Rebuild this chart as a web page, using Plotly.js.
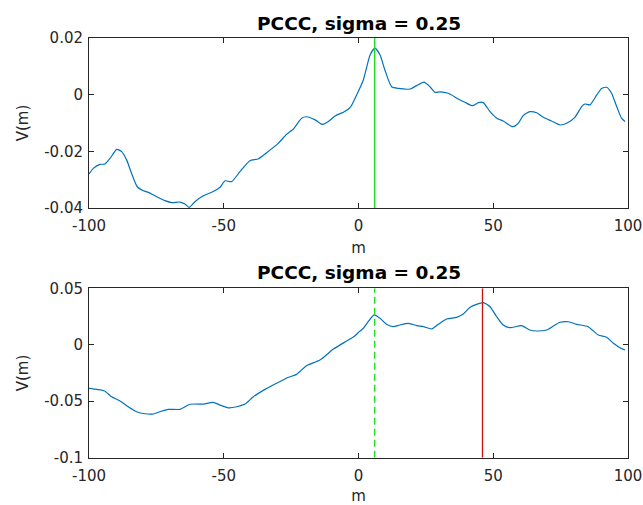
<!DOCTYPE html>
<html>
<head>
<meta charset="utf-8">
<script src="https://cdn.plot.ly/plotly-3.0.1.min.js"></script>
<style>
  html, body { margin: 0; padding: 0; background: #fff; }
  #chart { width: 643px; height: 505px; }
</style>
</head>
<body>
<div id="chart"></div>
<script>
// ---- data ----
const titleText = 'PCCC, sigma = 0.25';

const mTop = [-100, -98.4, -95.9, -94.1, -92.2, -89.7, -87.9, -86.0, -84.2, -82.1, -79.8, -78.0, -74.9, -71.8, -69.3, -66.2, -64.4, -62.8, -60.7, -57.6, -53.9, -51.4, -49.5, -47.1, -44.0, -40.3, -37.2, -34.1, -29.8, -26.7, -24.2, -21.1, -19.3, -16.1, -13.3, -11.2, -8.7, -5.6, -3.0, -0.7, 1.8, 4.3, 6.1, 8.0, 9.8, 12.3, 14.8, 19.1, 21.6, 24.3, 26.5, 28.4, 30.2, 33.3, 37.0, 39.5, 42.3, 44.5, 46.3, 48.8, 51.3, 53.7, 57.2, 59.3, 61.1, 63.6, 66.1, 68.6, 71.6, 74.8, 77.2, 80.3, 82.8, 84.0, 85.9, 88.4, 90.2, 92.1, 93.9, 95.8, 97.6, 98.9];
const vTop = [-0.0280, -0.0260, -0.0246, -0.0245, -0.0225, -0.0193, -0.0201, -0.0231, -0.0278, -0.0325, -0.0339, -0.0345, -0.0360, -0.0374, -0.0381, -0.0379, -0.0386, -0.0398, -0.0378, -0.0357, -0.0342, -0.0327, -0.0304, -0.0307, -0.0272, -0.0233, -0.0227, -0.0205, -0.0172, -0.0140, -0.0122, -0.0083, -0.0078, -0.0089, -0.0105, -0.0095, -0.0075, -0.0062, -0.0044, -0.0001, 0.0052, 0.0140, 0.0164, 0.0140, 0.0087, 0.0028, 0.0022, 0.0020, 0.0032, 0.0044, 0.0028, 0.0008, 0.0010, 0.0005, -0.0015, -0.0027, -0.0039, -0.0028, -0.0028, -0.0060, -0.0083, -0.0093, -0.0113, -0.0101, -0.0074, -0.0060, -0.0064, -0.0080, -0.0093, -0.0107, -0.0101, -0.0080, -0.0042, -0.0033, -0.0036, -0.0001, 0.0022, 0.0026, 0.0005, -0.0042, -0.0083, -0.0095];

const mBot = [-100, -97.1, -94.4, -91.6, -88.5, -85.4, -82.3, -79.2, -76.1, -73.7, -70.6, -66.2, -62.5, -57.6, -53.9, -51.4, -48.3, -45.2, -42.1, -39.0, -34.7, -30.4, -26.0, -23.0, -19.3, -14.3, -9.3, -4.4, -1.5, 0.3, 1.8, 3.6, 5.8, 8.0, 10.4, 12.9, 15.3, 18.5, 21.6, 24.1, 27.2, 29.6, 32.7, 36.4, 38.9, 41.4, 43.8, 46.3, 48.8, 51.3, 53.7, 56.2, 60.5, 63.6, 66.1, 69.8, 72.3, 74.8, 77.9, 80.9, 85.2, 89.0, 92.1, 94.6, 97.0, 98.9];
const vBot = [-0.0386, -0.0395, -0.0407, -0.0460, -0.0498, -0.0549, -0.0593, -0.0611, -0.0613, -0.0593, -0.0572, -0.0572, -0.0527, -0.0525, -0.0510, -0.0534, -0.0558, -0.0549, -0.0525, -0.0460, -0.0395, -0.0341, -0.0288, -0.0262, -0.0186, -0.0135, -0.0038, 0.0033, 0.0075, 0.0116, 0.0146, 0.0204, 0.0264, 0.0234, 0.0181, 0.0160, 0.0175, 0.0190, 0.0169, 0.0160, 0.0140, 0.0181, 0.0228, 0.0243, 0.0272, 0.0332, 0.0358, 0.0373, 0.0337, 0.0248, 0.0175, 0.0151, 0.0169, 0.0131, 0.0122, 0.0131, 0.0166, 0.0199, 0.0204, 0.0181, 0.0160, 0.0086, 0.0066, 0.0013, -0.0026, -0.0046];

const peakTop = 6;       // solid green marker, top panel
const peakBotGreen = 6;  // dashed green marker, bottom panel
const peakBotRed = 46;   // red marker, bottom panel

const xRange = [-100, 100];
const xTicks = [-100, -50, 0, 50, 100];
const xTickText = ['-100', '-50', '0', '50', '100'];
const yTopRange = [-0.04, 0.02];
const yTopTicks = [-0.04, -0.02, 0, 0.02];
const yTopTickText = ['-0.04', '-0.02', '0', '0.02'];
const yBotRange = [-0.1, 0.05];
const yBotTicks = [-0.1, -0.05, 0, 0.05];
const yBotTickText = ['-0.1', '-0.05', '0', '0.05'];

// ---- styles ----
const W = 643, H = 505;
const axisColor = '#262626';
const font = 'DejaVu Sans, sans-serif';
const curveColor = '#0072BD';

const xd = [89 / W, 628 / W];
const yTopDom = [1 - 208 / H, 1 - 38 / H];
const yBotDom = [1 - 457.7 / H, 1 - 288.3 / H];

function xAxis(anchor) {
  return {
    domain: xd, range: xRange, anchor: anchor,
    tickvals: xTicks, ticktext: xTickText,
    ticks: 'inside', ticklen: 5, tickcolor: axisColor, tickwidth: 1,
    ticklabelstandoff: 4,
    showline: true, linecolor: axisColor, linewidth: 1, mirror: 'ticks',
    showgrid: false, zeroline: false,
    tickfont: { family: font, size: 15, color: axisColor },
    title: { text: 'm', font: { family: font, size: 15, color: axisColor }, standoff: 8 }
  };
}
function yAxis(anchor, dom, rng, tv, tt) {
  return {
    domain: dom, range: rng, anchor: anchor,
    tickvals: tv, ticktext: tt,
    ticks: 'inside', ticklen: 5, tickcolor: axisColor, tickwidth: 1,
    ticklabelstandoff: 2,
    showline: true, linecolor: axisColor, linewidth: 1, mirror: 'ticks',
    showgrid: false, zeroline: false,
    tickfont: { family: font, size: 15, color: axisColor },
    title: { text: 'V(m)', font: { family: font, size: 15, color: axisColor }, standoff: 11 }
  };
}

const traces = [
  { x: mTop, y: vTop, xaxis: 'x', yaxis: 'y', type: 'scatter', mode: 'lines',
    line: { color: curveColor, width: 1.2, shape: 'spline', smoothing: 0.6 } },
  { x: [peakTop, peakTop], y: yTopRange, xaxis: 'x', yaxis: 'y', type: 'scatter', mode: 'lines',
    line: { color: '#22dd22', width: 1.5 } },
  { x: mBot, y: vBot, xaxis: 'x2', yaxis: 'y2', type: 'scatter', mode: 'lines',
    line: { color: curveColor, width: 1.2, shape: 'spline', smoothing: 0.6 } },
  { x: [peakBotGreen, peakBotGreen], y: yBotRange, xaxis: 'x2', yaxis: 'y2', type: 'scatter', mode: 'lines',
    line: { color: '#22dd22', width: 1.5, dash: '7px,4px' } },
  { x: [peakBotRed, peakBotRed], y: yBotRange, xaxis: 'x2', yaxis: 'y2', type: 'scatter', mode: 'lines',
    line: { color: '#cc1111', width: 1.3 } }
];

const layout = {
  width: W, height: H,
  margin: { l: 0, r: 0, t: 0, b: 0 },
  paper_bgcolor: '#fff', plot_bgcolor: '#fff',
  showlegend: false,
  xaxis: xAxis('y'),
  yaxis: yAxis('x', yTopDom, yTopRange, yTopTicks, yTopTickText),
  xaxis2: xAxis('y2'),
  yaxis2: yAxis('x2', yBotDom, yBotRange, yBotTicks, yBotTickText),
  annotations: [
    { text: '<b>' + titleText + '</b>', xref: 'paper', yref: 'paper',
      x: (xd[0] + xd[1]) / 2, y: 1 - 23.5 / H, xanchor: 'center', yanchor: 'middle',
      showarrow: false, font: { family: font, size: 18.5, color: '#000' } },
    { text: '<b>' + titleText + '</b>', xref: 'paper', yref: 'paper',
      x: (xd[0] + xd[1]) / 2, y: 1 - 272.5 / H, xanchor: 'center', yanchor: 'middle',
      showarrow: false, font: { family: font, size: 18.5, color: '#000' } }
  ]
};

Plotly.newPlot('chart', traces, layout, { displayModeBar: false, staticPlot: true });
</script>
</body>
</html>
